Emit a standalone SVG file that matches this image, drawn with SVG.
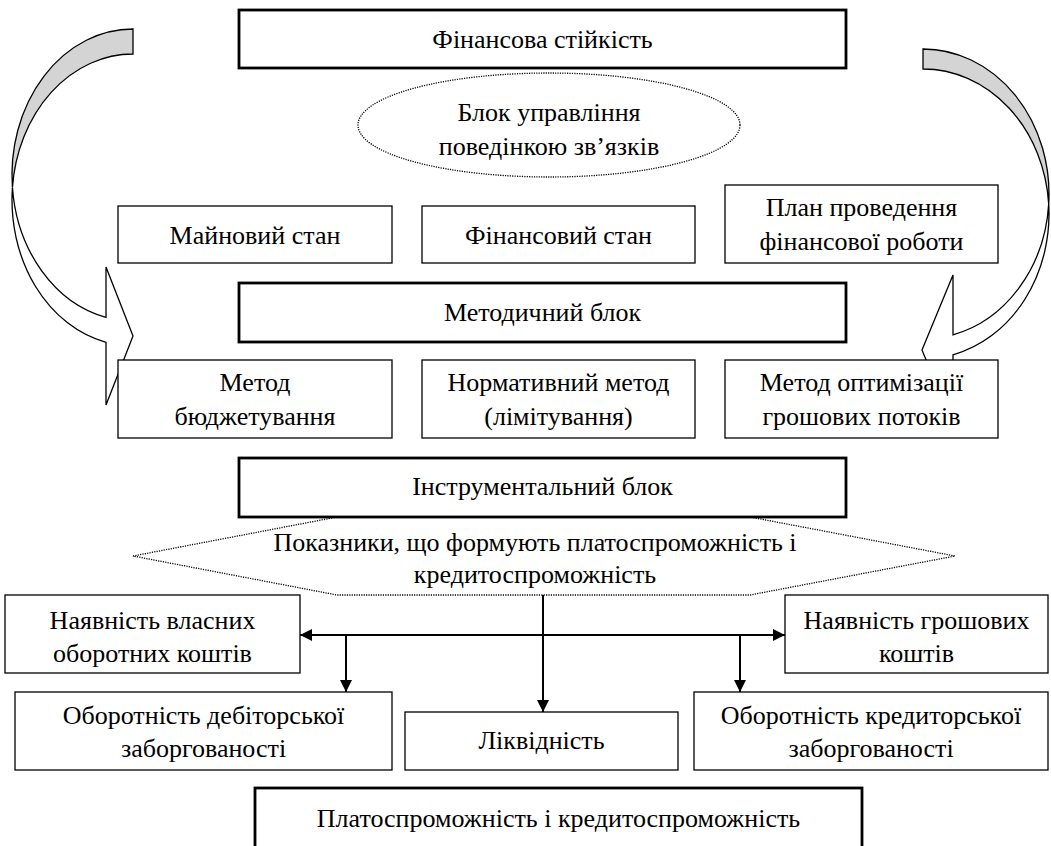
<svg xmlns="http://www.w3.org/2000/svg" width="1051" height="846" viewBox="0 0 1051 846">
<style>
  .t { font-family: "Liberation Serif", "Times New Roman", "DejaVu Serif", serif; font-size: 26px; fill: #000; text-anchor: middle; }
  .box { fill: #fff; stroke: #000; stroke-width: 1.3; }
  .bold { fill: #fff; stroke: #000; stroke-width: 2.8; }
  .dot { fill: #fff; stroke: #000; stroke-width: 1.3; stroke-dasharray: 1.2 1.2; }
  .band { stroke: #000; stroke-width: 1.3; stroke-linejoin: miter; }
  .conn { stroke: #000; stroke-width: 2; fill: none; }
</style>
<defs>
  <marker id="ah" viewBox="0 0 12 12" refX="12" refY="6" markerWidth="12" markerHeight="12" markerUnits="userSpaceOnUse" orient="auto">
    <path d="M0,0 L12,6 L0,12 Z" fill="#000"/>
  </marker>
</defs>
<rect width="1051" height="846" fill="#fff"/>

<g id="curved-arrow-left">
  <path class="band" fill="#d4d4d4" d="M133,29 A121 146 0 0 0 12.44,187.5 A121 146 0 0 1 133,54 Z"/>
  <path class="band" fill="#fff" d="M12.44,187.5 A121 146 0 0 0 106,342.3 L106,405 L133,336 L106,267 L106,317.3 A121 146 0 0 1 12.44,187.5 Z"/>
</g>
<g id="curved-arrow-right">
  <path class="band" fill="#d4d4d4" d="M923,49 A126 145 0 0 1 1048.7,204 A126 145 0 0 0 923,69 Z"/>
  <path class="band" fill="#fff" d="M1048.7,204 A126 145 0 0 1 953,354.8 L953,425 L922,350 L953,275 L953,334.8 A126 145 0 0 0 1048.7,204 Z"/>
</g>

<g font-family="Liberation Serif, Times New Roman, DejaVu Serif, serif" font-size="26" text-anchor="middle">
<g id="n-pokaznyky">
  <polygon class="dot" points="133,556 337,517 750,517 955,556 750,595 337,595"/>
  <text class="t" x="535" y="551">Показники, що формують платоспроможність і</text>
  <text class="t" x="535" y="583">кредитоспроможність</text>
</g>

<g id="n-finstiikist">
  <rect class="bold" x="239" y="10" width="607" height="58"/>
  <text class="t" x="542.5" y="48">Фінансова стійкість</text>
</g>
<g id="n-blok-upr">
  <ellipse class="dot" cx="549" cy="125" rx="191" ry="52"/>
  <text class="t" x="549" y="121">Блок управління</text>
  <text class="t" x="549" y="155">поведінкою зв’язків</text>
</g>
<g id="n-mainovyi">
  <rect class="box" x="118" y="206" width="274" height="57"/>
  <text class="t" x="255" y="244">Майновий стан</text>
</g>
<g id="n-finstan">
  <rect class="box" x="422" y="206" width="273" height="57"/>
  <text class="t" x="558.5" y="244">Фінансовий стан</text>
</g>
<g id="n-plan">
  <rect class="box" x="725" y="185" width="273" height="78"/>
  <text class="t" x="861.5" y="216">План проведення</text>
  <text class="t" x="861.5" y="250">фінансової роботи</text>
</g>
<g id="n-metodychnyi">
  <rect class="bold" x="239" y="283" width="607" height="59"/>
  <text class="t" x="542.5" y="321">Методичний блок</text>
</g>
<g id="n-budzhet">
  <rect class="box" x="118" y="360" width="274" height="78"/>
  <text class="t" x="255" y="391">Метод</text>
  <text class="t" x="255" y="425">бюджетування</text>
</g>
<g id="n-normatyv">
  <rect class="box" x="422" y="360" width="273" height="78"/>
  <text class="t" x="558.5" y="391">Нормативний метод</text>
  <text class="t" x="558.5" y="425">(лімітування)</text>
</g>
<g id="n-optym">
  <rect class="box" x="725" y="360" width="273" height="78"/>
  <text class="t" x="861.5" y="391">Метод оптимізації</text>
  <text class="t" x="861.5" y="425">грошових потоків</text>
</g>
<g id="n-instrum">
  <rect class="bold" x="239" y="458" width="607" height="59"/>
  <text class="t" x="542.5" y="495">Інструментальний блок</text>
</g>
<g id="n-vlasni">
  <rect class="box" x="5" y="595" width="295" height="78"/>
  <text class="t" x="152.5" y="629">Наявність власних</text>
  <text class="t" x="152.5" y="662">оборотних коштів</text>
</g>
<g id="n-groshovi">
  <rect class="box" x="785" y="595" width="263" height="78"/>
  <text class="t" x="916.5" y="629">Наявність грошових</text>
  <text class="t" x="916.5" y="662">коштів</text>
</g>
<g id="n-debitor">
  <rect class="box" x="15" y="692" width="377" height="78"/>
  <text class="t" x="203.5" y="724">Оборотність дебіторської</text>
  <text class="t" x="203.5" y="757">заборгованості</text>
</g>
<g id="n-likvidnist">
  <rect class="box" x="405" y="712" width="273" height="58"/>
  <text class="t" x="541.5" y="749">Ліквідність</text>
</g>
<g id="n-kredytor">
  <rect class="box" x="694" y="692" width="354" height="78"/>
  <text class="t" x="871" y="724">Оборотність кредиторської</text>
  <text class="t" x="871" y="757">заборгованості</text>
</g>
<g id="n-platosp">
  <rect class="bold" x="255" y="788" width="607" height="80"/>
  <text class="t" x="558.5" y="827">Платоспроможність і кредитоспроможність</text>
</g>
</g>

<g id="connectors">
  <line class="conn" x1="543" y1="595" x2="543" y2="712" marker-end="url(#ah)"/>
  <line class="conn" x1="543" y1="635" x2="300" y2="635" marker-end="url(#ah)"/>
  <line class="conn" x1="543" y1="635" x2="785" y2="635" marker-end="url(#ah)"/>
  <line class="conn" x1="346" y1="635" x2="346" y2="692" marker-end="url(#ah)"/>
  <line class="conn" x1="740" y1="635" x2="740" y2="692" marker-end="url(#ah)"/>
</g>
</svg>
